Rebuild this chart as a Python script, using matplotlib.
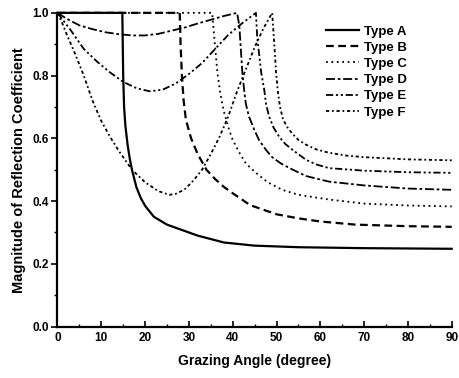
import matplotlib
matplotlib.use("Agg")
import matplotlib.pyplot as plt
from matplotlib.ticker import MultipleLocator

plt.rcParams['font.family'] = ['Liberation Sans', 'DejaVu Sans']
plt.rcParams['font.weight'] = 'bold'

# Data (grazing angle in degrees, |R|)
a_x = [0, 14.8, 14.9, 15.0, 15.2, 15.5, 16, 16.5, 17, 18, 19, 20, 22, 25, 28, 32, 38, 45, 55, 70, 90]
a_y = [1.0, 1.0, 0.9, 0.8, 0.7, 0.64, 0.58, 0.535, 0.5, 0.445, 0.41, 0.385, 0.35, 0.325, 0.31, 0.29, 0.268, 0.258, 0.253, 0.25, 0.248]

b_x = [0, 27.9, 28.1, 28.4, 28.8, 29.3, 30.5, 32, 34, 36, 38, 40, 44, 50, 55, 60, 68, 80, 90]
b_y = [1.0, 1.0, 0.9, 0.8, 0.72, 0.66, 0.6, 0.55, 0.5, 0.47, 0.445, 0.425, 0.387, 0.358, 0.345, 0.335, 0.325, 0.32, 0.318]

c_x = [0, 35.3, 35.8, 36.5, 37.2, 38, 39, 40, 41.5, 43, 45.3, 48, 51.3, 55, 62, 70, 80, 90]
c_y = [1.0, 1.0, 0.92, 0.81, 0.74, 0.685, 0.635, 0.595, 0.555, 0.52, 0.49, 0.46, 0.436, 0.42, 0.405, 0.392, 0.386, 0.383]

d_x = [0, 2, 5, 8, 11, 14, 17, 20, 23, 26, 29, 32, 35, 38, 41, 41.5, 42.2, 42.6, 43, 43.7, 45, 46, 47.5, 49, 51, 53, 56.7, 62, 70, 80, 90]
d_y = [1.0, 0.982, 0.96, 0.948, 0.938, 0.932, 0.928, 0.928, 0.933, 0.943, 0.953, 0.966, 0.978, 0.99, 1.0, 0.96, 0.81, 0.755, 0.71, 0.67, 0.625, 0.595, 0.565, 0.54, 0.52, 0.505, 0.48, 0.462, 0.45, 0.44, 0.436]

e_x = [0, 3, 6, 9, 12, 15, 18, 21, 24, 27, 30, 33, 36, 39, 42, 45.3, 45.6, 46.5, 47.2, 47.6, 48.3, 49.3, 50.6, 52, 53.6, 56.7, 59, 62, 70, 80, 90]
e_y = [1.0, 0.945, 0.885, 0.845, 0.81, 0.78, 0.76, 0.75, 0.755, 0.775, 0.805, 0.84, 0.885, 0.93, 0.965, 1.0, 0.92, 0.81, 0.755, 0.71, 0.67, 0.635, 0.605, 0.582, 0.564, 0.532, 0.517, 0.505, 0.497, 0.492, 0.49]

f_x = [0, 1, 2, 4, 6, 8, 10, 12, 14, 17, 20, 23, 25.5, 27, 29, 31, 33, 35, 37, 39, 41, 43, 45, 47, 49, 49.4, 49.9, 50.3, 50.8, 51.5, 52.5, 53.6, 55, 56.7, 59, 62, 66, 70, 80, 90]
f_y = [1.0, 0.97, 0.935, 0.87, 0.8, 0.72, 0.655, 0.605, 0.56, 0.5, 0.46, 0.432, 0.42, 0.423, 0.437, 0.465, 0.5, 0.55, 0.605, 0.67, 0.75, 0.82, 0.89, 0.95, 1.0, 0.92, 0.81, 0.75, 0.7, 0.66, 0.635, 0.615, 0.595, 0.58, 0.565, 0.554, 0.545, 0.54, 0.533, 0.53]

labels = ["Type A", "Type B", "Type C", "Type D", "Type E", "Type F"]
x_ticks = [0, 10, 20, 30, 40, 50, 60, 70, 80, 90]
y_ticks = [0.0, 0.2, 0.4, 0.6, 0.8, 1.0]

series = [(a_x, a_y), (b_x, b_y), (c_x, c_y), (d_x, d_y), (e_x, e_y), (f_x, f_y)]
styles = [
    dict(linestyle='-', linewidth=1.6),
    dict(linestyle=(0, (3.5, 2)), linewidth=1.6),
    dict(linestyle=(0, (1, 2)), linewidth=1.3),
    dict(linestyle=(0, (5, 1.5, 1.5, 1.5)), linewidth=1.3),
    dict(linestyle=(0, (4, 1.5, 1.2, 1.5, 1.2, 1.5)), linewidth=1.3),
    dict(linestyle=(0, (1.8, 1.5, 1, 1.5)), linewidth=1.3),
]

fig = plt.figure(figsize=(4.6, 3.78), dpi=100)
ax = fig.add_axes([0.125, 0.136, 0.857, 0.830])

for (xs, ys), st, lab in zip(series, styles, labels):
    ax.plot(xs, ys, color='black', label=lab, clip_on=False, **st)

ax.set_xlim(0, 90)
ax.set_ylim(0, 1.0)
ax.set_xticks(x_ticks)
ax.set_yticks(y_ticks)
ax.set_yticklabels([f"{v:.1f}" for v in y_ticks])
ax.xaxis.set_minor_locator(MultipleLocator(5))
ax.yaxis.set_minor_locator(MultipleLocator(0.1))

ax.spines['top'].set_visible(False)
ax.spines['right'].set_visible(False)
ax.spines['left'].set_linewidth(1.6)
ax.spines['bottom'].set_linewidth(1.6)
ax.tick_params(axis='y', which='major', direction='out', length=4, width=1.2, labelsize=8.5, pad=2)
ax.tick_params(axis='y', which='minor', direction='out', length=2, width=1)
ax.tick_params(axis='x', which='major', direction='in', length=4, width=1.2, labelsize=8.5, pad=4)
ax.tick_params(axis='x', which='minor', direction='in', length=2, width=1)

ax.set_xlabel("Grazing Angle (degree)", fontsize=10, fontweight='bold', labelpad=7)
ax.set_ylabel("Magnitude of Reflection Coefficient", fontsize=10.5, fontweight='bold', labelpad=5)

ax.legend(loc='upper left', bbox_to_anchor=(0.68, 0.96), frameon=False,
          fontsize=9.5, handlelength=2.5, handletextpad=0.4, labelspacing=0.3,
          borderpad=0, borderaxespad=0)

fig.savefig("out.png", dpi=100)
